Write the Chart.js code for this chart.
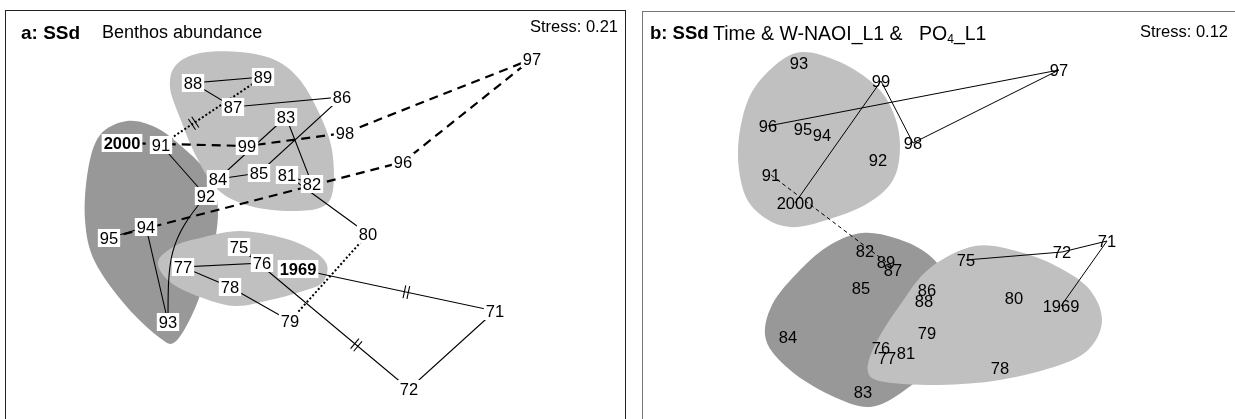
<!DOCTYPE html>
<html>
<head>
<meta charset="utf-8">
<script src="https://cdn.jsdelivr.net/npm/chart.js@4.4.1/dist/chart.umd.min.js"></script>
<style>
  body { margin: 0; width: 1235px; height: 419px; overflow: hidden; background: #fff;
         font-family: 'Liberation Sans', Arial, sans-serif; color: #000; position: relative; }
  .panel { position: absolute; box-sizing: border-box; }
  #panelA { left: 5px; top: 10px; width: 621px; height: 430px; border: 1px solid #222; }
  #panelB { left: 642px; top: 11px; width: 620px; height: 430px; border: 1px solid #777; }
  canvas { position: absolute; }
  #chartA { left: 6px; top: 11px; }
  #chartB { left: 643px; top: 12px; }
  .t { position: absolute; white-space: pre; line-height: 1; }
  .b { font-weight: bold; }
  sub { font-size: 12px; vertical-align: -3px; line-height: 0; }
</style>
</head>
<body>
<div class="panel" id="panelA"></div>
<div class="panel" id="panelB"></div>
<canvas id="chartA" width="619" height="408"></canvas>
<canvas id="chartB" width="592" height="407"></canvas>

<span class="t b" style="left:21px; top:23px; font-size:19px;">a: SSd</span>
<span class="t" style="left:102px; top:23px; font-size:18px;">Benthos abundance</span>
<span class="t" style="right:617px; top:18px; font-size:16.5px;">Stress: 0.21</span>

<span class="t b" style="left:650px; top:24px; font-size:18.5px;">b: SSd</span>
<span class="t" style="left:713px; top:24px; font-size:19.5px;">Time &amp; W-NAOI_L1 &amp;</span>
<span class="t" style="left:919px; top:24px; font-size:19.5px;">PO<sub>4</sub>_L1</span>
<span class="t" style="right:7px; top:23px; font-size:16.5px;">Stress: 0.12</span>

<script>
// ---- panel a: benthos abundance (years in time order) ----
const yearsA = ['1969','71','72','75','76','77','78','79','80','81','82','83','84','85',
                '86','87','88','89','91','92','93','94','95','96','97','98','99','2000'];
const xA = [-0.18, 1.79, 0.93, -0.77, -0.54, -1.33, -0.86, -0.26, 0.52, -0.29, -0.04, -0.30, -0.98, -0.57,
            0.26, -0.83, -1.23, -0.53, -1.55, -1.10, -1.48, -1.70, -2.07, 0.87, 2.16, 0.29, -0.69, -1.94];
const yA = [-0.54, -0.96, -1.74, -0.32, -0.48, -0.52, -0.72, -1.06, -0.19, 0.40, 0.31, 0.98, 0.36, 0.42,
            1.18, 1.08, 1.32, 1.38, 0.70, 0.19, -1.07, -0.12, -0.23, 0.53, 1.56, 0.82, 0.69, 0.72];
// link from each year to the next: s solid, d dashed, o dotted, c curved, n none
const linksA = ['s','s','s','s','s','s','s','o','s','s','s','s','s','s','s','s','s','o','s','c',
                's','s','d','d','d','d','d'];
const boldA = ['1969', '2000'];

// cluster envelopes, panel a
const darkAx = [-1.89, -1.61, -1.36, -1.11, -0.99, -1.00, -1.11, -1.24, -1.41, -1.56, -1.89, -2.21, -2.31, -2.28, -2.16];
const darkAy = [0.94, 0.88, 0.70, 0.45, 0.15, -0.20, -0.65, -1.00, -1.27, -1.23, -0.92, -0.47, -0.05, 0.45, 0.80];
const upperAx = [-1.16, -0.76, -0.41, -0.16, 0.04, 0.16, 0.17, 0.06, -0.26, -0.66, -0.98, -1.19, -1.36, -1.46, -1.40];
const upperAy = [1.62, 1.63, 1.55, 1.35, 1.00, 0.65, 0.25, 0.08, 0.04, 0.09, 0.25, 0.57, 0.97, 1.28, 1.50];
const lowerAx = [-1.58, -1.41, -1.16, -0.76, -0.33, -0.04, 0.11, 0.06, -0.16, -0.46, -0.81, -1.16, -1.46];
const lowerAy = [-0.47, -0.31, -0.23, -0.16, -0.23, -0.35, -0.50, -0.68, -0.77, -0.85, -0.91, -0.82, -0.67];

// ---- panel b: time & W-NAOI_L1 & PO4_L1 ----
const yearsB = yearsA;
const xB = [1.23, 1.69, 1.24, 0.28, -0.57, -0.51, 0.62, -0.11, 0.76, -0.32, -0.73, -0.75, -1.50, -0.77,
            -0.11, -0.45, -0.14, -0.52, -1.67, -0.60, -1.39, -1.16, -1.35, -1.70, 1.21, -0.25, -0.57, -1.43];
const yB = [-0.91, -0.26, -0.37, -0.45, -1.33, -1.43, -1.53, -1.18, -0.83, -1.38, -0.36, -1.77, -1.22, -0.73,
            -0.75, -0.55, -0.86, -0.47, 0.40, 0.55, 1.52, 0.80, 0.86, 0.89, 1.45, 0.72, 1.34, 0.12];
const linksB = ['s','s','s','n','n','n','n','n','n','n','n','n','n','n','n','n','n','d','n','n',
                'n','n','n','s','s','s','s'];

const upperBx = [-1.37, -0.98, -0.63, -0.45, -0.38, -0.45, -0.73, -1.18, -1.48, -1.73, -1.93, -2.00, -1.90, -1.66];
const upperBy = [1.63, 1.53, 1.30, 1.03, 0.70, 0.35, 0.10, -0.07, -0.12, -0.03, 0.20, 0.65, 1.15, 1.47];
const darkBx = [-0.76, -0.43, -0.13, 0.07, 0.12, -0.03, -0.33, -0.68, -1.08, -1.48, -1.72, -1.66, -1.38, -1.08];
const darkBy = [-0.18, -0.23, -0.37, -0.60, -0.95, -1.45, -1.75, -1.92, -1.80, -1.55, -1.25, -0.90, -0.55, -0.30];
const lowerBx = [0.37, 0.82, 1.22, 1.52, 1.64, 1.52, 1.22, 0.62, 0.02, -0.53, -0.70, -0.63, -0.38, -0.08];
const lowerBy = [-0.31, -0.37, -0.53, -0.75, -1.05, -1.33, -1.50, -1.65, -1.70, -1.67, -1.57, -1.30, -0.90, -0.53];

const LIGHT = '#c0c0c0';
const DARK = '#989898';

// smooth closed envelopes behind the trajectory
const blobPlugin = {
  id: 'blobs',
  beforeDatasetsDraw(chart, args, opts) {
    const { ctx, scales: { x, y } } = chart;
    (opts.shapes || []).forEach(s => {
      const p = s.xs.map((v, i) => [x.getPixelForValue(v), y.getPixelForValue(s.ys[i])]);
      const n = p.length;
      ctx.save();
      ctx.fillStyle = s.color;
      ctx.beginPath();
      ctx.moveTo(p[0][0], p[0][1]);
      for (let i = 0; i < n; i++) {
        const p0 = p[(i - 1 + n) % n], p1 = p[i], p2 = p[(i + 1) % n], p3 = p[(i + 2) % n];
        ctx.bezierCurveTo(p1[0] + (p2[0] - p0[0]) / 6, p1[1] + (p2[1] - p0[1]) / 6,
                          p2[0] - (p3[0] - p1[0]) / 6, p2[1] - (p3[1] - p1[1]) / 6,
                          p2[0], p2[1]);
      }
      ctx.closePath();
      ctx.fill();
      ctx.restore();
    });
  }
};

// curved links and "//" break marks
const markPlugin = {
  id: 'marks',
  afterDatasetsDraw(chart, args, opts) {
    const ctx = chart.ctx;
    const pts = chart.getDatasetMeta(0).data;
    ctx.save();
    ctx.strokeStyle = '#000';
    ctx.lineWidth = 1.1;
    (opts.curves || []).forEach(i => {
      const a = pts[i], b = pts[i + 1];
      const dy = b.y - a.y;
      ctx.beginPath();
      ctx.moveTo(a.x, a.y);
      ctx.bezierCurveTo(b.x, a.y + dy * 0.35, b.x, a.y + dy * 0.5, b.x, b.y);
      ctx.stroke();
    });
    (opts.breaks || []).forEach(k => {
      const a = pts[k.i], b = pts[k.i + 1];
      const len = Math.hypot(b.x - a.x, b.y - a.y);
      const ux = (b.x - a.x) / len, uy = (b.y - a.y) / len;
      const cx = a.x + (b.x - a.x) * k.t, cy = a.y + (b.y - a.y) * k.t;
      const nx = -uy, ny = ux;
      [-2, 2].forEach(o => {
        const mx = cx + ux * o, my = cy + uy * o;
        ctx.beginPath();
        ctx.moveTo(mx - nx * 6.5, my - ny * 6.5);
        ctx.lineTo(mx + nx * 6.5, my + ny * 6.5);
        ctx.stroke();
      });
    });
    ctx.restore();
  }
};

// year labels, optionally on white boxes
const labelPlugin = {
  id: 'yearLabels',
  afterDatasetsDraw(chart, args, opts) {
    const ctx = chart.ctx;
    const pts = chart.getDatasetMeta(0).data;
    const fs = opts.size;
    ctx.save();
    opts.names.forEach((name, i) => {
      const bold = (opts.bold || []).includes(name);
      ctx.font = (bold ? 'bold ' : '') + fs + 'px "Liberation Sans", Arial, sans-serif';
      const w = ctx.measureText(name).width;
      const { x, y } = pts[i];
      if (opts.boxes) {
        ctx.fillStyle = '#fff';
        ctx.fillRect(x - w / 2 - 2, y - 9, w + 4, 18);
      }
      ctx.fillStyle = '#000';
      ctx.textAlign = 'center';
      ctx.textBaseline = 'alphabetic';
      ctx.fillText(name, x, y + fs * 0.358);
    });
    ctx.restore();
  }
};

function segStyle(links, dashW, dash, dotW, dot, solidW) {
  return {
    borderDash: c => {
      const k = links[c.p0DataIndex];
      return k === 'd' ? dash : k === 'o' ? dot : [];
    },
    borderWidth: c => {
      const k = links[c.p0DataIndex];
      return k === 'd' ? dashW : k === 'o' ? dotW : solidW;
    },
    borderColor: c => {
      const k = links[c.p0DataIndex];
      return (k === 'c' || k === 'n') ? 'rgba(0,0,0,0)' : '#000';
    }
  };
}

function makeChart(id, names, xs, ys, links, range, extra) {
  return new Chart(document.getElementById(id), {
    type: 'scatter',
    data: {
      datasets: [{
        data: names.map((n, i) => ({ x: xs[i], y: ys[i] })),
        showLine: true,
        pointRadius: 0,
        borderColor: '#000',
        borderWidth: extra.solidW,
        segment: segStyle(links, extra.dashW, extra.dash, 2, [2, 2.2], extra.solidW)
      }]
    },
    options: {
      responsive: false,
      animation: false,
      events: [],
      layout: { padding: 0 },
      scales: {
        x: { type: 'linear', display: false, min: range[0], max: range[1] },
        y: { type: 'linear', display: false, min: range[2], max: range[3] }
      },
      plugins: {
        legend: { display: false },
        tooltip: { enabled: false },
        blobs: { shapes: extra.shapes },
        marks: { curves: extra.curves || [], breaks: extra.breaks || [] },
        yearLabels: { names: names, size: 16.5, boxes: extra.boxes, bold: extra.bold }
      }
    },
    plugins: [blobPlugin, markPlugin, labelPlugin]
  });
}

makeChart('chartA', yearsA, xA, yA, linksA, [-3.10, 3.09, -2.04, 2.04], {
  solidW: 1.1, dashW: 2.2, dash: [9, 6],
  shapes: [
    { xs: darkAx, ys: darkAy, color: DARK },
    { xs: upperAx, ys: upperAy, color: LIGHT },
    { xs: lowerAx, ys: lowerAy, color: LIGHT }
  ],
  curves: [linksA.indexOf('c')],
  breaks: [{ i: 0, t: 0.55 }, { i: 2, t: 0.31 }, { i: 17, t: 0.68 }],
  boxes: true,
  bold: boldA
});

makeChart('chartB', yearsB, xB, yB, linksB, [-2.95, 2.97, -2.04, 2.03], {
  solidW: 1, dashW: 1, dash: [4, 3],
  shapes: [
    { xs: upperBx, ys: upperBy, color: LIGHT },
    { xs: darkBx, ys: darkBy, color: DARK },
    { xs: lowerBx, ys: lowerBy, color: LIGHT }
  ],
  boxes: false,
  bold: []
});
</script>
</body>
</html>
